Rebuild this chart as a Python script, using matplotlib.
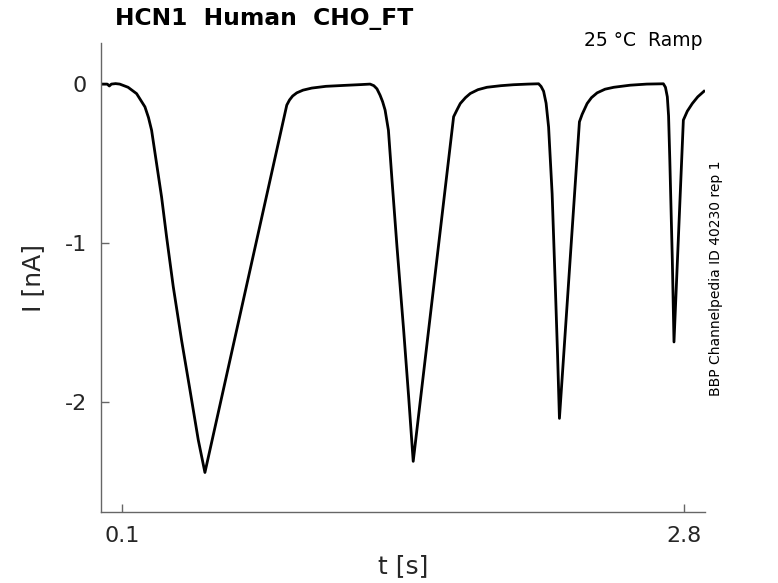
import matplotlib
matplotlib.use("Agg")
import matplotlib.pyplot as plt
import numpy as np

# trace points (time in s, current in nA)
t = [0.0, 0.03, 0.04, 0.05, 0.07, 0.09, 0.13, 0.171, 0.211, 0.228, 0.243, 0.267,
     0.291, 0.315, 0.347, 0.387, 0.427, 0.467, 0.499,
     0.892, 0.905, 0.92, 0.94, 0.97, 1.012, 1.08, 1.17, 1.25, 1.292,
     1.31, 1.325, 1.34, 1.352, 1.364, 1.38, 1.397, 1.421, 1.453, 1.477, 1.499,
     1.693, 1.71, 1.725, 1.75, 1.773, 1.81, 1.853, 1.92, 1.98, 2.05, 2.101,
     2.113, 2.125, 2.137, 2.149, 2.166, 2.182, 2.192, 2.201,
     2.297, 2.31, 2.334, 2.355, 2.382, 2.42, 2.462, 2.54, 2.62, 2.70,
     2.71, 2.719, 2.725, 2.731, 2.743, 2.751,
     2.796, 2.815, 2.839, 2.865, 2.895]
current = [0.0, 0.0, -0.012, 0.0, 0.003, 0.0, -0.02, -0.06, -0.143, -0.21, -0.29, -0.5,
           -0.71, -0.96, -1.273, -1.61, -1.92, -2.235, -2.44,
           -0.132, -0.1, -0.075, -0.055, -0.038, -0.025, -0.014, -0.008, -0.003, 0.0,
           -0.01, -0.03, -0.07, -0.11, -0.163, -0.29, -0.6, -1.02, -1.544, -1.963, -2.37,
           -0.205, -0.16, -0.122, -0.085, -0.059, -0.035, -0.02, -0.01, -0.004, 0.0, 0.002,
           -0.015, -0.045, -0.12, -0.27, -0.69, -1.3, -1.7, -2.10,
           -0.237, -0.19, -0.122, -0.085, -0.055, -0.032, -0.02, -0.007, 0.0, 0.002,
           -0.02, -0.08, -0.2, -0.48, -1.105, -1.62,
           -0.226, -0.17, -0.122, -0.08, -0.045]

xticks = [0.1, 2.8]
xtick_labels = ["0.1", "2.8"]
yticks = [-2, -1, 0]
ytick_labels = ["-2", "-1", "0"]

fig = plt.figure(figsize=(7.78, 5.83), dpi=100)
ax = fig.add_axes([0.1298, 0.1213, 0.7764, 0.8049])

ax.plot(t, current, color="black", linewidth=2.0, solid_joinstyle="round")

ax.set_xlim(0.0, 2.9)
ax.set_ylim(-2.69, 0.258)
ax.set_xticks(xticks)
ax.set_xticklabels(xtick_labels)
ax.set_yticks(yticks)
ax.set_yticklabels(ytick_labels)

for side in ["top", "right"]:
    ax.spines[side].set_visible(False)
for side in ["left", "bottom"]:
    ax.spines[side].set_color("#666666")
    ax.spines[side].set_linewidth(1.0)

ax.tick_params(direction="in", length=6, width=1, colors="#666666",
               labelcolor="#262626", labelsize=16, pad=10)

ax.set_xlabel("t [s]", fontsize=18, color="#262626", labelpad=6)
ax.set_ylabel("I [nA]", fontsize=18, color="#262626", labelpad=14)

fig.text(115 / 778, 1 - 18 / 583, "HCN1  Human  CHO_FT", fontsize=16.8,
         fontweight="bold", ha="left", va="center", color="black")
fig.text(703 / 778, 1 - 41 / 583, "25 °C  Ramp", fontsize=13.5,
         ha="right", va="center", color="black")
fig.text(716 / 778, 1 - 278 / 583, "BBP Channelpedia ID 40230 rep 1", fontsize=10,
         rotation=90, ha="center", va="center", color="black")

fig.savefig("out.png", dpi=100)
